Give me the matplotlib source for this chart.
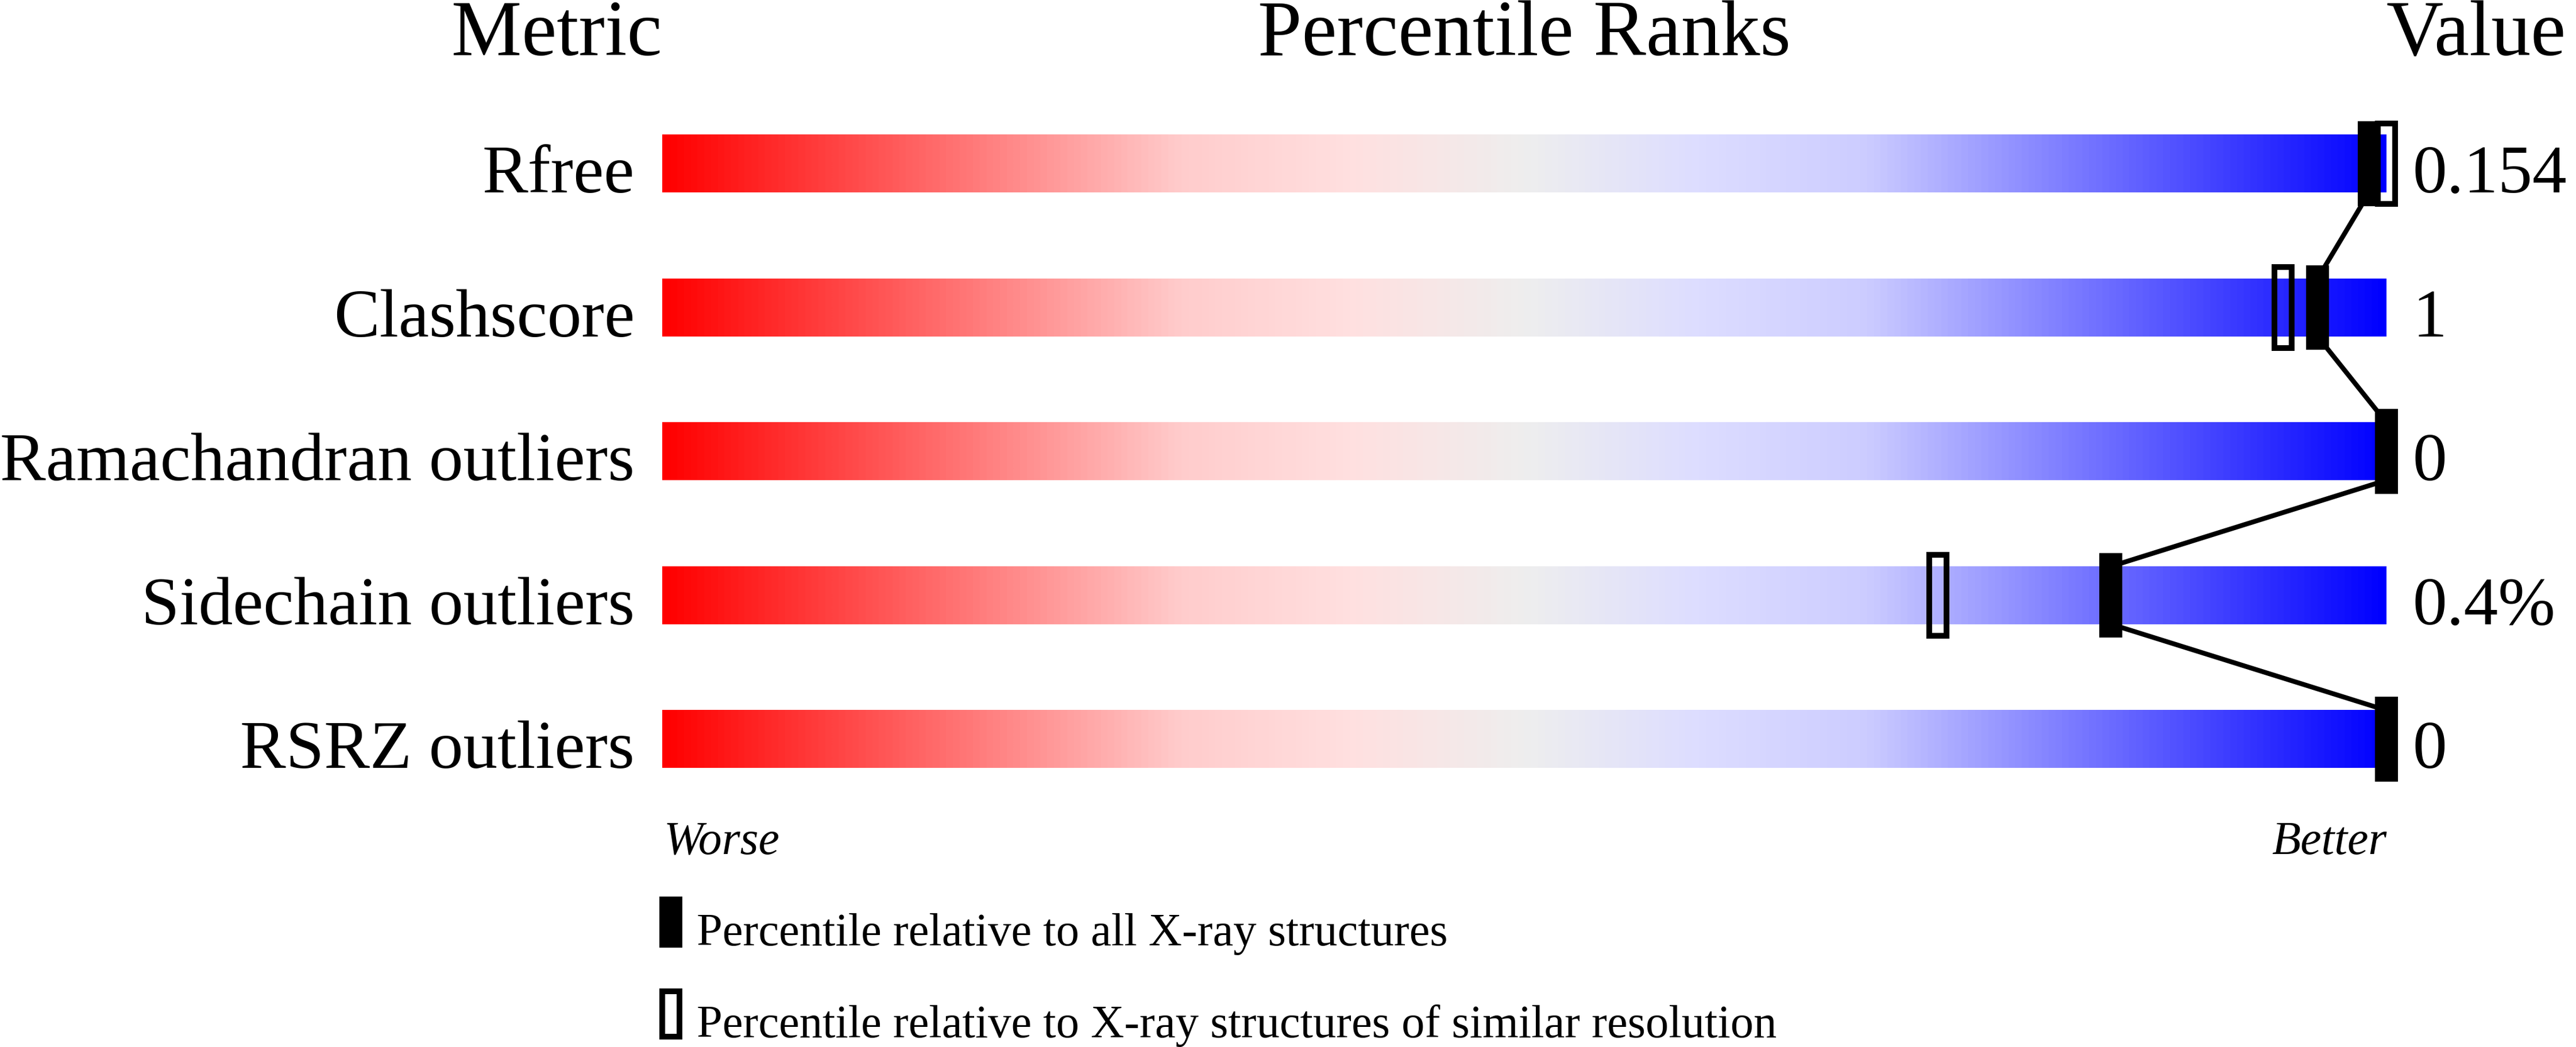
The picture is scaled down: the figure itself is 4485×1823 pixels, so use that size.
import matplotlib
matplotlib.use("Agg")
import matplotlib.pyplot as plt
import numpy as np
from matplotlib.colors import LinearSegmentedColormap
from matplotlib.patches import Rectangle

plt.rcParams['font.family'] = 'serif'
plt.rcParams['font.serif'] = ['Liberation Serif', 'DejaVu Serif']

metrics = ['Rfree', 'Clashscore', 'Ramachandran outliers', 'Sidechain outliers', 'RSRZ outliers']
values = ['0.154', '1', '0', '0.4%', '0']
pct_all = [99, 96, 100, 84, 100]
pct_similar = [100, 94, None, 74, None]
legend_labels = ['Percentile relative to all X-ray structures',
                 'Percentile relative to X-ray structures of similar resolution']

# slider colours, red (worse) to blue (better)
cmap = LinearSegmentedColormap.from_list('slider', [
    (0.0, '#ff0000'), (0.3, '#ffcccc'), (0.4, '#ffe0e0'), (0.5, '#eeeeee'),
    (0.6, '#ddddff'), (0.7, '#ccccff'), (1.0, '#0000ff')])

W, H = 4485, 1824
fig = plt.figure(figsize=(W / 100, H / 100), dpi=100)
# axes over the bar area: x in percentile, y in rows
left, right = 1153, 4155
row0, step = 286, 250.5
ax = fig.add_axes([left / W, 0, (right - left) / W, 1])
ax.set_xlim(0, 100)
ax.set_ylim((H - row0) / step, -row0 / step)
ax.axis('off')

bar_h = 0.4
mk_w, mk_h = 1.33, 0.59
grad = np.linspace(0, 1, 512).reshape(1, -1)

for i, name in enumerate(metrics):
    ax.imshow(grad, cmap=cmap, aspect='auto', extent=(0, 100, i + bar_h / 2, i - bar_h / 2),
              zorder=1, interpolation='bilinear')
    ax.text(-1.6, i + 0.196, name, ha='right', va='baseline', fontsize=86)
    ax.text(101.5, i + 0.196, values[i], ha='left', va='baseline', fontsize=86)

# connecting line: bottom of one bar to top of the next
for i in range(len(metrics) - 1):
    ax.plot([pct_all[i], pct_all[i + 1]], [i + bar_h / 2, i + 1 - bar_h / 2],
            color='black', lw=6, zorder=2, solid_capstyle='butt', clip_on=False)

for i in range(len(metrics)):
    if pct_similar[i] is not None:
        ax.add_patch(Rectangle((pct_similar[i] - 0.5, i - 0.28), 1.0, 0.56, facecolor='none',
                               edgecolor='black', lw=7.2, zorder=3, clip_on=False))
    ax.add_patch(Rectangle((pct_all[i] - mk_w / 2, i - mk_h / 2), mk_w, mk_h,
                           facecolor='black', edgecolor='none', zorder=4, clip_on=False))

# headers
ax.text(0, -0.758, 'Metric', ha='right', va='baseline', fontsize=99)
ax.text(50, -0.758, 'Percentile Ranks', ha='center', va='baseline', fontsize=99)
ax.text(100, -0.758, 'Value', ha='left', va='baseline', fontsize=99)

ax.text(0.1, 4.794, 'Worse', ha='left', va='baseline', fontsize=59, style='italic')
ax.text(100, 4.794, 'Better', ha='right', va='baseline', fontsize=59, style='italic')

# legend
ax.add_patch(Rectangle((-0.17, 5.094), mk_w, 0.355, facecolor='black', edgecolor='none',
                       clip_on=False))
ax.add_patch(Rectangle((0.0, 5.753), 1.0, 0.315, facecolor='none', edgecolor='black',
                       lw=7.2, clip_on=False))
ax.text(2.0, 5.429, legend_labels[0], ha='left', va='baseline', fontsize=58)
ax.text(2.0, 6.068, legend_labels[1], ha='left', va='baseline', fontsize=58)

fig.savefig('out.png', dpi=100, facecolor='white')
